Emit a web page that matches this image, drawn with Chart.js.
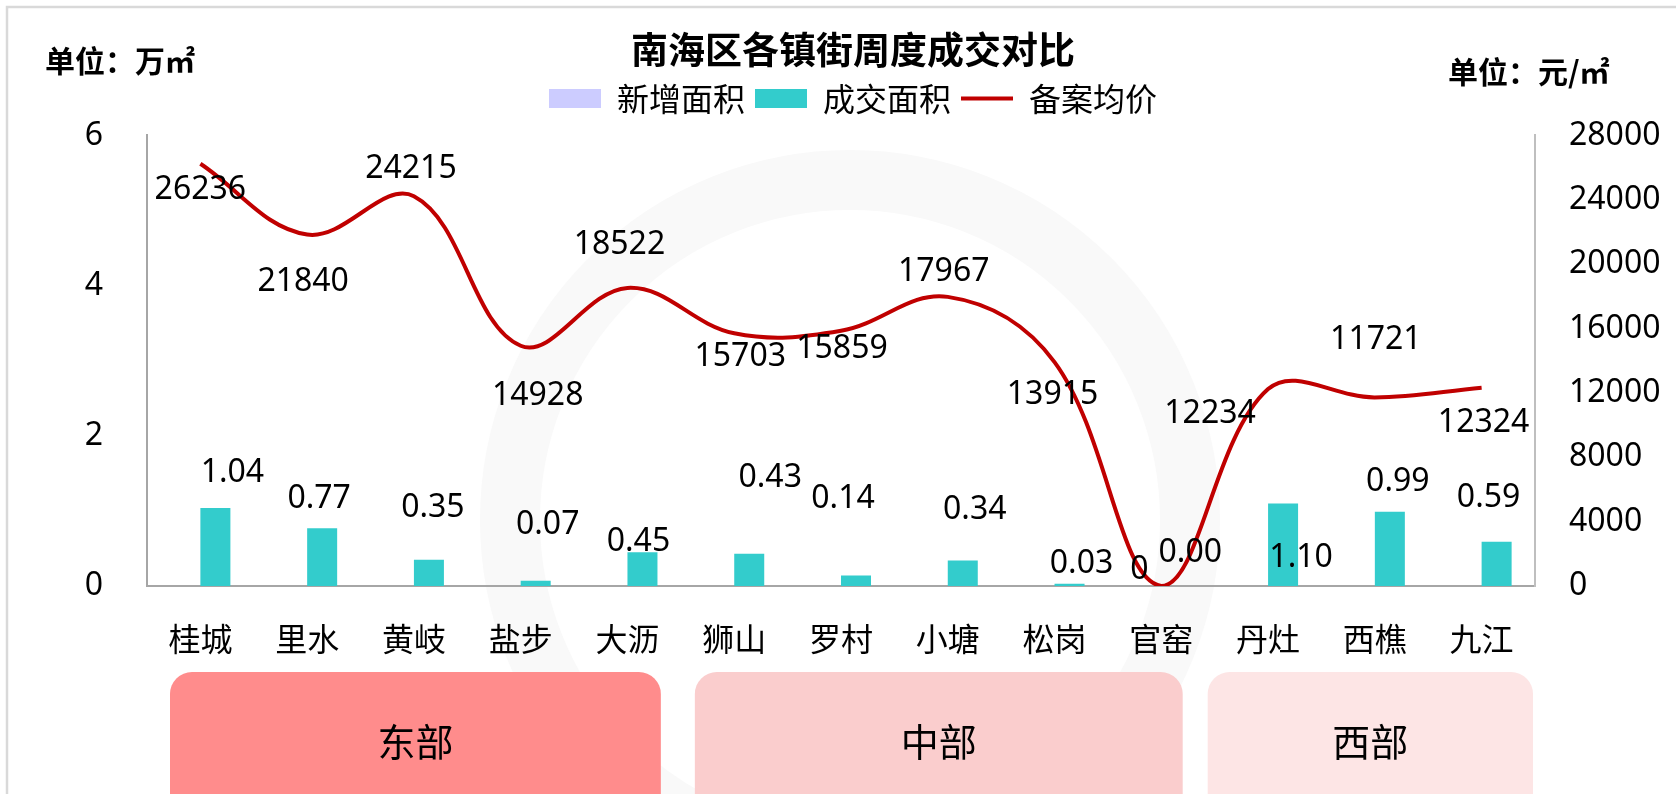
<!DOCTYPE html>
<html>
<head>
<meta charset="utf-8">
<script src="https://cdn.jsdelivr.net/npm/chart.js@4.4.1/dist/chart.umd.min.js"></script>
<style>
html,body{margin:0;padding:0;background:#fff;}
canvas{display:block;}
</style>
</head>
<body>
<canvas id="c" width="1676" height="794"></canvas>
<script>
// ---------- data ----------
const categories = ['桂城','里水','黄岐','盐步','大沥','狮山','罗村','小塘','松岗','官窑','丹灶','西樵','九江'];
const newArea    = [null,null,null,null,null,null,null,null,null,null,null,null,null]; // 新增面积 (no values shown)
const dealArea   = [1.04,0.77,0.35,0.07,0.45,0.43,0.14,0.34,0.03,0.00,1.10,0.99,0.59]; // 成交面积 (万㎡)
const avgPrice   = [26236,21840,24215,14928,18522,15703,15859,17967,13915,0,12234,11721,12324]; // 备案均价 (元/㎡)
const leftTicks  = [0,2,4,6];
const rightTicks = [0,4000,8000,12000,16000,20000,24000,28000];
const regionNames = ['东部','中部','西部'];
const regionFirst = [0,5,10];
const regionLast  = [4,9,12];

// ---------- styles / label placement (not data) ----------
const NUM_FONT = '"Noto Sans", "Noto Sans CJK SC", sans-serif';
const CJK_FONT = '"Noto Sans CJK SC", "Noto Sans", sans-serif';
const regionColors = ['#FF8C8C','#FACDCD','#FDE5E5'];
const regionInsets = [[23,20],[14,32],[-7,2]];
const priceLabelOffset = [[0,26],[-4,47],[-3,-27],[17,50],[-8,-43],[6,24],[1,18],[-4,-25],[-2,33],[-22,-16],[-58,25],[1,-57],[2,35]];
const areaLabelOffset  = [[17,-35],[-3,-29],[4,-52],[12,-56],[-4,-10],[21,-76],[-13,-77],[12,-51],[12,-20],[14,-33],[18,55],[8,-30],[-8,-44]];

const backgroundPlugin = {
  id: 'bg',
  beforeDraw(chart) {
    const ctx = chart.ctx;
    ctx.save();
    ctx.fillStyle = '#fff';
    ctx.fillRect(0, 0, chart.width, chart.height);
    // very faint watermark ring
    ctx.strokeStyle = '#f9f9f9';
    ctx.lineWidth = 60;
    ctx.beginPath();
    ctx.arc(850, 520, 340, 0, Math.PI * 2);
    ctx.stroke();
    // outer frame
    ctx.strokeStyle = '#D9D9D9';
    ctx.lineWidth = 2.5;
    ctx.beginPath();
    ctx.moveTo(7, chart.height + 5);
    ctx.lineTo(7, 7);
    ctx.lineTo(chart.width + 5, 7);
    ctx.stroke();
    ctx.restore();
  }
};

const legendGapPlugin = {
  id: 'legendGap',
  beforeLayout(chart) {
    const lg = chart.legend;
    if (lg && !lg.__patched) {
      const orig = lg.fit;
      lg.fit = function() { orig.apply(this, arguments); this.height += 11; };
      lg.__patched = true;
    }
  }
};

const decorPlugin = {
  id: 'decor',
  beforeDatasetsDraw(chart) {
    const ctx = chart.ctx;
    const xs = chart.scales.x;
    const cw = xs.width / categories.length;
    ctx.save();
    regionNames.forEach((name, i) => {
      const l = xs.getPixelForValue(regionFirst[i]) - cw / 2 + regionInsets[i][0];
      const r = xs.getPixelForValue(regionLast[i]) + cw / 2 - regionInsets[i][1];
      const top = 672;
      ctx.fillStyle = regionColors[i];
      ctx.beginPath();
      ctx.roundRect(l, top, r - l, 160, 22);
      ctx.fill();
      ctx.fillStyle = '#000';
      ctx.font = '38px ' + CJK_FONT;
      ctx.textAlign = 'center';
      ctx.textBaseline = 'middle';
      ctx.fillText(name, (l + r) / 2, 742);
    });
    // unit labels
    ctx.font = 'bold 30px ' + CJK_FONT;
    ctx.textAlign = 'left';
    ctx.textBaseline = 'middle';
    ctx.fillText('单位：万㎡', 45, 61);
    ctx.fillText('单位：元/㎡', 1448, 72);
    ctx.restore();
  },
  afterDatasetsDraw(chart) {
    const ctx = chart.ctx;
    ctx.save();
    ctx.font = '32px ' + NUM_FONT;
    ctx.fillStyle = '#000';
    ctx.textAlign = 'center';
    ctx.textBaseline = 'middle';
    const barMeta = chart.getDatasetMeta(1);
    barMeta.data.forEach((el, i) => {
      const o = areaLabelOffset[i];
      ctx.fillText(dealArea[i].toFixed(2), el.x + o[0], el.y + o[1]);
    });
    const lineMeta = chart.getDatasetMeta(2);
    lineMeta.data.forEach((el, i) => {
      const o = priceLabelOffset[i];
      ctx.fillText(String(avgPrice[i]), el.x + o[0], el.y + o[1]);
    });
    ctx.restore();
  }
};

function build() {
  new Chart(document.getElementById('c'), {
    type: 'bar',
    data: {
      labels: categories,
      datasets: [
        { label: '新增面积', data: newArea, backgroundColor: '#CCCCFF', borderWidth: 0, yAxisID: 'y', order: 1,
          barPercentage: 1, categoryPercentage: 0.562 },
        { label: '成交面积', data: dealArea, backgroundColor: '#33CCCC', borderWidth: 0, yAxisID: 'y', order: 1,
          barPercentage: 1, categoryPercentage: 0.562 },
        { label: '备案均价', type: 'line', data: avgPrice, borderColor: '#C00000', backgroundColor: '#C00000',
          borderWidth: 4, tension: 0.38, pointRadius: 0, pointHoverRadius: 0, fill: false, yAxisID: 'y1', order: 0 }
      ]
    },
    options: {
      responsive: false,
      devicePixelRatio: 1,
      animation: false,
      events: [],
      layout: { padding: { left: 30, right: 0, top: 0, bottom: 0 } },
      plugins: {
        tooltip: { enabled: false },
        title: {
          display: true,
          text: '南海区各镇街周度成交对比',
          color: '#000',
          font: { family: CJK_FONT, size: 37, weight: 'bold' },
          padding: { top: 28, bottom: 0 }
        },
        legend: {
          display: true,
          position: 'top',
          labels: {
            color: '#000',
            font: { family: CJK_FONT, size: 32 },
            usePointStyle: true,
            pointStyleWidth: 52,
            boxHeight: 19,
            padding: 10,
            sort: (a, b) => a.datasetIndex - b.datasetIndex,
            generateLabels(chart) {
              const items = Chart.defaults.plugins.legend.labels.generateLabels(chart);
              items.forEach(it => {
                const ds = chart.data.datasets[it.datasetIndex];
                if (ds.type === 'line') {
                  it.pointStyle = 'line'; it.lineWidth = 4; it.strokeStyle = ds.borderColor; it.fillStyle = ds.borderColor;
                } else {
                  it.pointStyle = 'rect'; it.lineWidth = 0; it.fillStyle = ds.backgroundColor; it.strokeStyle = ds.backgroundColor;
                }
              });
              return items;
            }
          }
        }
      },
      scales: {
        x: {
          grid: { display: false, drawTicks: false },
          border: { display: true, color: '#A6A6A6', width: 2 },
          ticks: { color: '#000', font: { family: CJK_FONT, size: 32 }, padding: 34, maxRotation: 0, autoSkip: false },
          afterFit(s) { s.height = 208; }
        },
        y: {
          position: 'left',
          min: leftTicks[0], max: leftTicks[leftTicks.length - 1],
          grid: { display: false, drawTicks: false },
          border: { display: true, color: '#A6A6A6', width: 2 },
          ticks: { stepSize: leftTicks[1] - leftTicks[0], color: '#000', font: { family: NUM_FONT, size: 32 }, padding: 44,
                   callback: (v) => String(v) },
          afterFit(s) { s.width = 117; }
        },
        y1: {
          position: 'right',
          min: rightTicks[0], max: rightTicks[rightTicks.length - 1],
          grid: { display: false, drawTicks: false },
          border: { display: true, color: '#BFBFBF', width: 2 },
          ticks: { stepSize: rightTicks[1] - rightTicks[0], color: '#000', font: { family: NUM_FONT, size: 32 }, padding: 34,
                   callback: (v) => String(v) },
          afterFit(s) { s.width = 141; }
        }
      }
    },
    plugins: [backgroundPlugin, legendGapPlugin, decorPlugin]
  });
}

if (document.fonts && document.fonts.load) {
  Promise.all([
    document.fonts.load('32px "Noto Sans"'),
    document.fonts.load('32px "Noto Sans CJK SC"'),
    document.fonts.load('bold 32px "Noto Sans CJK SC"')
  ]).then(build, build);
} else {
  build();
}
</script>
</body>
</html>
